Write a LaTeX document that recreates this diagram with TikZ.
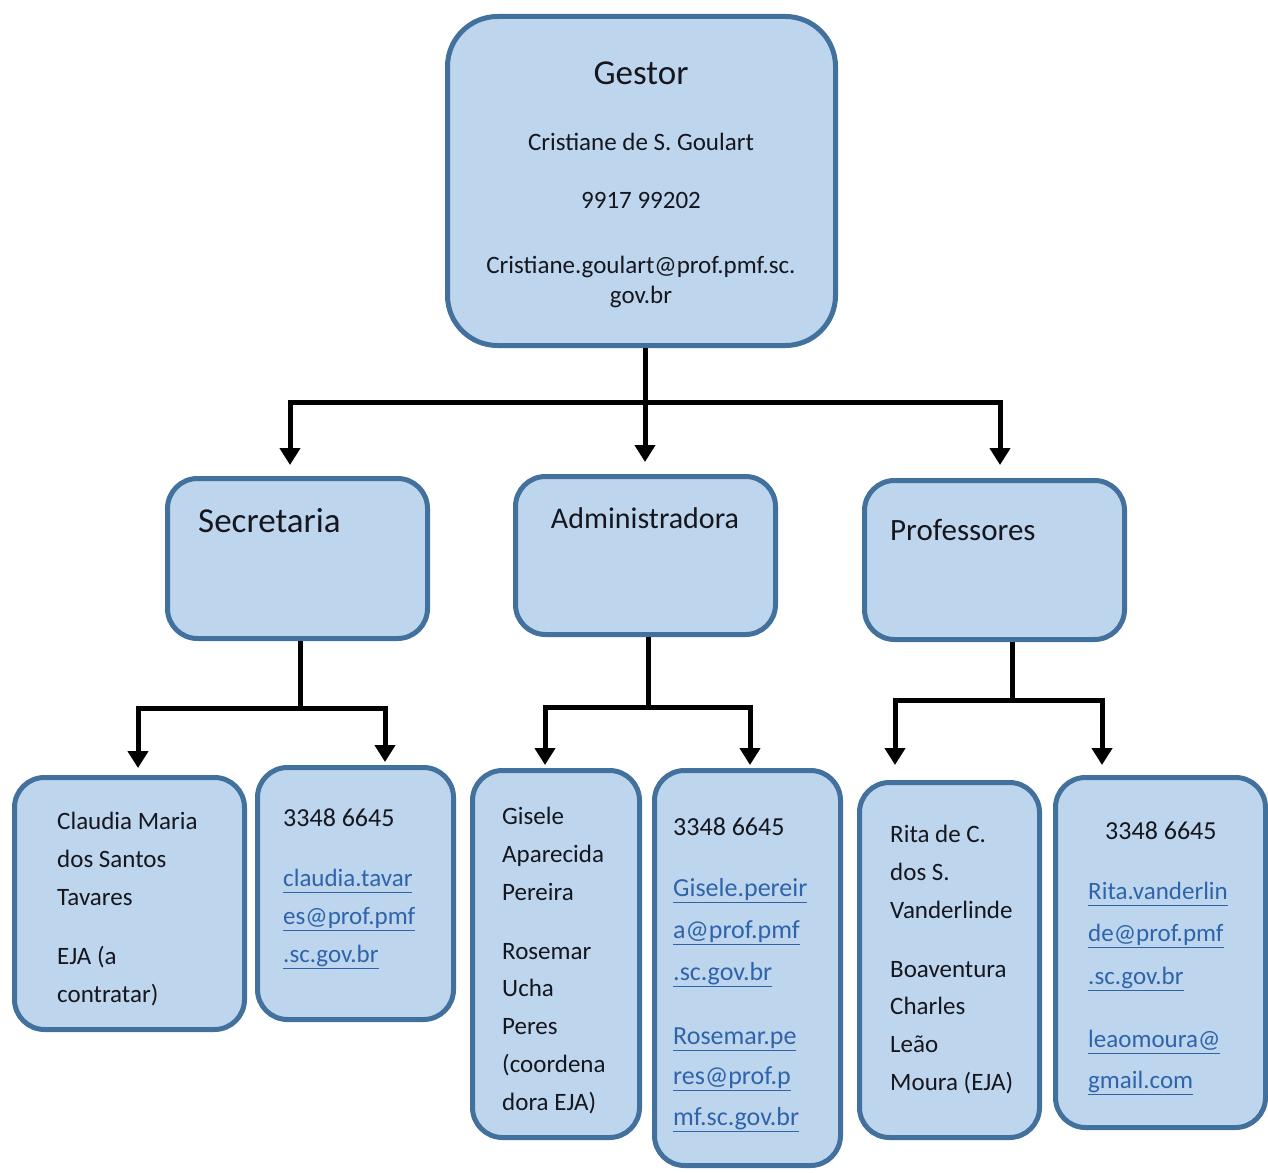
\documentclass[tikz,border=0pt]{standalone}
\usepackage{fontspec}
\setmainfont{Carlito}
\usetikzlibrary{arrows.meta}

\definecolor{boxfill}{RGB}{189,214,238}
\definecolor{boxline}{RGB}{65,113,156}
\definecolor{linkblue}{RGB}{47,99,170}
\definecolor{ink}{RGB}{22,22,30}

\tikzset{
  box/.style={draw=boxline, fill=boxfill, line width=5pt, rounded corners=30pt, inner sep=0pt},
  txt/.style={anchor=base west, inner sep=0pt, text=ink, font=\fontsize{25}{30}\selectfont},
  ctr/.style={txt, anchor=base},
  mail/.style={txt, text=linkblue},
  tie/.style={line width=5pt, draw=black},
  arr/.style={tie, -{Triangle[width=20pt,length=17pt]}},
}

\begin{document}
\begin{tikzpicture}[x=1pt, y=-1pt]
  \useasboundingbox (0,0) rectangle (1268,1172);

  % gestor
  \node[box, rounded corners=50pt, minimum width=388pt, minimum height=329pt] (gestor) at (641.5,181) {};
  \node[ctr, font=\fontsize{35}{40}\selectfont] (gtitle) at (641,84) {Gestor};
  \node[ctr] (gname) at (641,150) {Cristiane de S. Goulart};
  \node[ctr] (gfone) at (641,208) {9917 99202};
  \node[ctr] (gmail1) at (641,273) {Cristiane.goulart@prof.pmf.sc.};
  \node[ctr] (gmail2) at (641,303) {gov.br};

  % setores
  \node[box, minimum width=260pt, minimum height=160pt] (sec) at (297.5,558.5) {};
  \node[txt, font=\fontsize{35}{40}\selectfont] (sect) at (198,532) {Secretaria};
  \node[box, minimum width=260pt, minimum height=158pt] (adm) at (645.5,555.5) {};
  \node[ctr, font=\fontsize{30}{36}\selectfont] (admt) at (645,528) {Administradora};
  \node[box, minimum width=260pt, minimum height=159pt] (prof) at (994.5,560) {};
  \node[txt, font=\fontsize{31}{36}\selectfont] (proft) at (890,540) {Professores};

  \coordinate (gj) at (645,402);
  \coordinate (tsec) at (290,465);
  \coordinate (tadm) at (645,462);
  \coordinate (tprof) at (1000,465);
  \draw[tie] (gestor.south -| gj) -- (gj);
  \draw[arr] (gj) -| (tsec);
  \draw[arr] (gj) -- (tadm);
  \draw[arr] (gj) -| (tprof);

  % secretaria
  \node[box, minimum width=230pt, minimum height=252pt] (cla) at (129.5,903.5) {};
  \node[box, minimum width=196pt, minimum height=252pt] (clm) at (355.5,893.5) {};
  \foreach \t [count=\i] in {Claudia Maria, dos Santos, Tavares}
    \node[txt] (cla\i) at (57,{829+38*(\i-1)}) {\t};
  \foreach \t [count=\i] in {EJA (a, contratar)}
    \node[txt] (claj\i) at (57,{964+38*(\i-1)}) {\t};
  \node[txt, font=\fontsize{26}{30}\selectfont] (clmf) at (283,826) {3348 6645};
  \foreach \t [count=\i] in {claudia.tavar, es@prof.pmf, .sc.gov.br}
    \node[mail] (clm\i) at (283,{886+38*(\i-1)}) {\underline{\t\vphantom{g}}};

  \coordinate (sj) at (300,708);
  \coordinate (tcla) at (138,768);
  \coordinate (tclm) at (385,762);
  \draw[tie] (sec.south -| sj) -- (sj);
  \draw[arr] (sj) -| (tcla);
  \draw[arr] (sj) -| (tclm);

  % administradora
  \node[box, minimum width=167pt, minimum height=367pt] (gis) at (556,954) {};
  \node[box, minimum width=186pt, minimum height=395pt] (gism) at (747.5,968) {};
  \foreach \t [count=\i] in {Gisele, Aparecida, Pereira}
    \node[txt] (gis\i) at (502,{824+38*(\i-1)}) {\t};
  \foreach \t [count=\i] in {Rosemar, Ucha, Peres, {(coordena}, dora EJA)}
    \node[txt] (ros\i) at (502,{959+37.8*(\i-1)}) {\t};
  \node[txt, font=\fontsize{26}{30}\selectfont] (gismf) at (673,835) {3348 6645};
  \foreach \t [count=\i] in {Gisele.pereir, a@prof.pmf, .sc.gov.br}
    \node[mail, font=\fontsize{26}{30}\selectfont] (gism\i) at (673,{896+42*(\i-1)}) {\underline{\t\vphantom{g}}};
  \foreach \t [count=\i] in {Rosemar.pe, res@prof.p, mf.sc.gov.br}
    \node[mail, font=\fontsize{26}{30}\selectfont] (rosm\i) at (673,{1044+40.5*(\i-1)}) {\underline{\t\vphantom{g}}};

  \coordinate (aj) at (648,707);
  \coordinate (tgis) at (545,765);
  \coordinate (tgism) at (750,765);
  \draw[tie] (adm.south -| aj) -- (aj);
  \draw[arr] (aj) -| (tgis);
  \draw[arr] (aj) -| (tgism);

  % professores
  \node[box, minimum width=180pt, minimum height=355pt] (rit) at (949.5,960) {};
  \node[box, minimum width=210pt, minimum height=350pt] (ritm) at (1160.5,952.5) {};
  \foreach \t [count=\i] in {Rita de C., dos S., Vanderlinde}
    \node[txt] (rit\i) at (890,{842+38*(\i-1)}) {\t};
  \foreach \t [count=\i] in {Boaventura, Charles, Leão, Moura (EJA)}
    \node[txt] (boa\i) at (890,{977+37.7*(\i-1)}) {\t};
  \node[txt, font=\fontsize{26}{30}\selectfont] (ritmf) at (1105,839) {3348 6645};
  \foreach \t [count=\i] in {Rita.vanderlin, de@prof.pmf, .sc.gov.br}
    \node[mail] (ritm\i) at (1088,{899+42.5*(\i-1)}) {\underline{\t\vphantom{g}}};
  \foreach \t [count=\i] in {leaomoura@, gmail.com}
    \node[mail] (leao\i) at (1088,{1047+41*(\i-1)}) {\underline{\t\vphantom{g}}};

  \coordinate (pj) at (1012,700);
  \coordinate (trit) at (895,765);
  \coordinate (tritm) at (1102,765);
  \draw[tie] (prof.south -| pj) -- (pj);
  \draw[arr] (pj) -| (trit);
  \draw[arr] (pj) -| (tritm);
\end{tikzpicture}
\end{document}
